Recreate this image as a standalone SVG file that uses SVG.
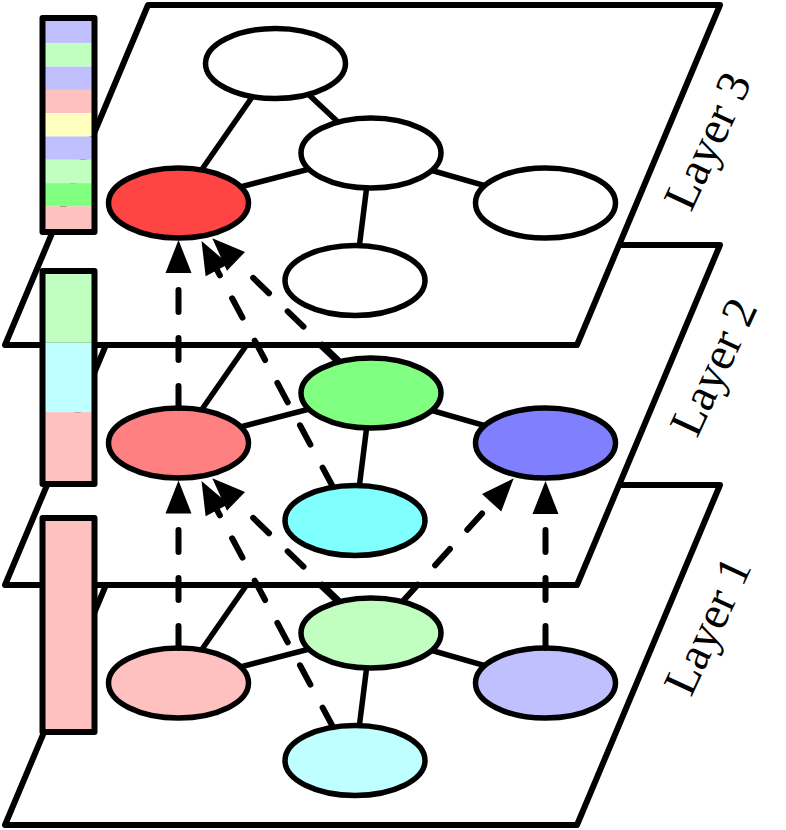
<svg xmlns="http://www.w3.org/2000/svg" width="786" height="830" viewBox="0 0 786 830">
<defs>
<style>
.plane{fill:#fff;stroke:#000;stroke-width:6;stroke-linejoin:round}
.edge{stroke:#000;stroke-width:5.5;fill:none}
.node{stroke:#000;stroke-width:5.5}
.bar{stroke:#000;stroke-width:6;stroke-linejoin:round}
.dash{stroke:#000;stroke-width:6;stroke-dasharray:22 26;stroke-linecap:round;fill:none}
.label{font-family:"Liberation Serif","Times New Roman",serif;font-size:47px;fill:#000}
</style>
<marker id="ah" markerUnits="userSpaceOnUse" markerWidth="36" markerHeight="28" refX="0" refY="13" orient="auto" overflow="visible"><path d="M0,0 L33,13 L0,26 z" fill="#000"/></marker>
</defs>
<rect width="786" height="830" fill="#fff"/>

<!-- Layer 1 -->
<g id="layer1">
<polygon class="plane" points="148,485 720,485 577,825 5,825"/>
<g id="edges-layer1">
<line class="edge" x1="275.5" y1="543.5" x2="178.5" y2="683"/>
<line class="edge" x1="275.5" y1="543.5" x2="371" y2="633"/>
<line class="edge" x1="371" y1="633" x2="178.5" y2="683"/>
<line class="edge" x1="371" y1="633" x2="545.5" y2="683"/>
<line class="edge" x1="371" y1="633" x2="355" y2="760.5"/>
</g>
<g id="l1-top"><ellipse class="node" cx="275.5" cy="543.5" rx="70" ry="35" fill="#fff"/></g>
<g id="l1-center"><ellipse class="node" cx="371" cy="633" rx="70" ry="35" fill="#c0ffc0"/></g>
<g id="l1-right"><ellipse class="node" cx="545.5" cy="683" rx="70" ry="35" fill="#c0c0ff"/></g>
<g id="l1-bottom"><ellipse class="node" cx="355" cy="760.5" rx="70" ry="35" fill="#c0ffff"/></g>
<g id="l1-left"><ellipse class="node" cx="178.5" cy="683" rx="70" ry="35" fill="#ffc0c0"/></g>
</g>

<!-- Layer 2 -->
<g id="layer2">
<polygon class="plane" points="148,245 720,245 577,585 5,585"/>
<g id="edges-layer2">
<line class="edge" x1="275.5" y1="303.5" x2="178.5" y2="443"/>
<line class="edge" x1="275.5" y1="303.5" x2="371" y2="393"/>
<line class="edge" x1="371" y1="393" x2="178.5" y2="443"/>
<line class="edge" x1="371" y1="393" x2="545.5" y2="443"/>
<line class="edge" x1="371" y1="393" x2="355" y2="520.5"/>
</g>
<g id="l2-top"><ellipse class="node" cx="275.5" cy="303.5" rx="70" ry="35" fill="#fff"/></g>
<g id="l2-center"><ellipse class="node" cx="371" cy="393" rx="70" ry="35" fill="#80ff80"/></g>
<g id="l2-right"><ellipse class="node" cx="545.5" cy="443" rx="70" ry="35" fill="#8080ff"/></g>
<g id="l2-bottom"><ellipse class="node" cx="355" cy="520.5" rx="70" ry="35" fill="#80ffff"/></g>
<g id="l2-left"><ellipse class="node" cx="178.5" cy="443" rx="70" ry="35" fill="#ff8080"/></g>
</g>

<!-- Layer 3 -->
<g id="layer3">
<polygon class="plane" points="148,5 720,5 577,345 5,345"/>
<g id="edges-layer3">
<line class="edge" x1="275.5" y1="63.5" x2="178.5" y2="203"/>
<line class="edge" x1="275.5" y1="63.5" x2="371" y2="153"/>
<line class="edge" x1="371" y1="153" x2="178.5" y2="203"/>
<line class="edge" x1="371" y1="153" x2="545.5" y2="203"/>
<line class="edge" x1="371" y1="153" x2="355" y2="280.5"/>
</g>
<g id="l3-top"><ellipse class="node" cx="275.5" cy="63.5" rx="70" ry="35" fill="#fff"/></g>
<g id="l3-center"><ellipse class="node" cx="371" cy="153" rx="70" ry="35" fill="#fff"/></g>
<g id="l3-right"><ellipse class="node" cx="545.5" cy="203" rx="70" ry="35" fill="#fff"/></g>
<g id="l3-bottom"><ellipse class="node" cx="355" cy="280.5" rx="70" ry="35" fill="#fff"/></g>
<g id="l3-left"><ellipse class="node" cx="178.5" cy="203" rx="70" ry="35" fill="#ff4444"/></g>
</g>

<!-- Feature bars -->
<g id="bar3">
<rect x="42.5" y="20" width="52" height="23.3" fill="#c0c0ff"/>
<rect x="42.5" y="43.3" width="52" height="23.3" fill="#c0ffc0"/>
<rect x="42.5" y="66.6" width="52" height="23.3" fill="#c0c0ff"/>
<rect x="42.5" y="89.9" width="52" height="23.3" fill="#ffc0c0"/>
<rect x="42.5" y="113.2" width="52" height="23.3" fill="#ffffc0"/>
<rect x="42.5" y="136.5" width="52" height="23.3" fill="#c0c0ff"/>
<rect x="42.5" y="159.8" width="52" height="23.3" fill="#c0ffc0"/>
<rect x="42.5" y="183.1" width="52" height="23.3" fill="#80ff80"/>
<rect x="42.5" y="206.4" width="52" height="25" fill="#ffc0c0"/>
<rect class="bar" x="42.5" y="18" width="52" height="214" fill="none"/>
</g>
<g id="bar2">
<rect x="42.5" y="271" width="52" height="71.8" fill="#c0ffc0"/>
<rect x="42.5" y="342.8" width="52" height="69.4" fill="#c0ffff"/>
<rect x="42.5" y="412.2" width="52" height="71.8" fill="#ffc0c0"/>
<rect class="bar" x="42.5" y="271" width="52" height="213" fill="none"/>
</g>
<g id="bar1">
<rect class="bar" x="42.5" y="518" width="52" height="214" fill="#ffc0c0"/>
</g>

<!-- Inter-layer connectors -->
<g id="connectors">
<line class="dash" x1="178.5" y1="408" x2="178.5" y2="273" marker-end="url(#ah)"/>
<line class="dash" x1="333" y1="487" x2="217.1" y2="270.2" marker-end="url(#ah)"/>
<line class="dash" x1="338" y1="360" x2="236" y2="261.3" marker-end="url(#ah)"/>
<line class="dash" x1="178.5" y1="648" x2="178.5" y2="513.5" marker-end="url(#ah)"/>
<line class="dash" x1="333" y1="727" x2="217.1" y2="510.2" marker-end="url(#ah)"/>
<line class="dash" x1="338" y1="600" x2="236" y2="501.3" marker-end="url(#ah)"/>
<line class="dash" x1="403" y1="601" x2="491.6" y2="502.8" marker-end="url(#ah)"/>
<line class="dash" x1="545.5" y1="648" x2="545.5" y2="514" marker-end="url(#ah)"/>
</g>

<!-- Labels -->
<text class="label" transform="translate(691,213) rotate(-65)">Layer 3</text>
<text class="label" transform="translate(697,439) rotate(-65)">Layer 2</text>
<text class="label" transform="translate(691,698) rotate(-65)">Layer 1</text>
</svg>
